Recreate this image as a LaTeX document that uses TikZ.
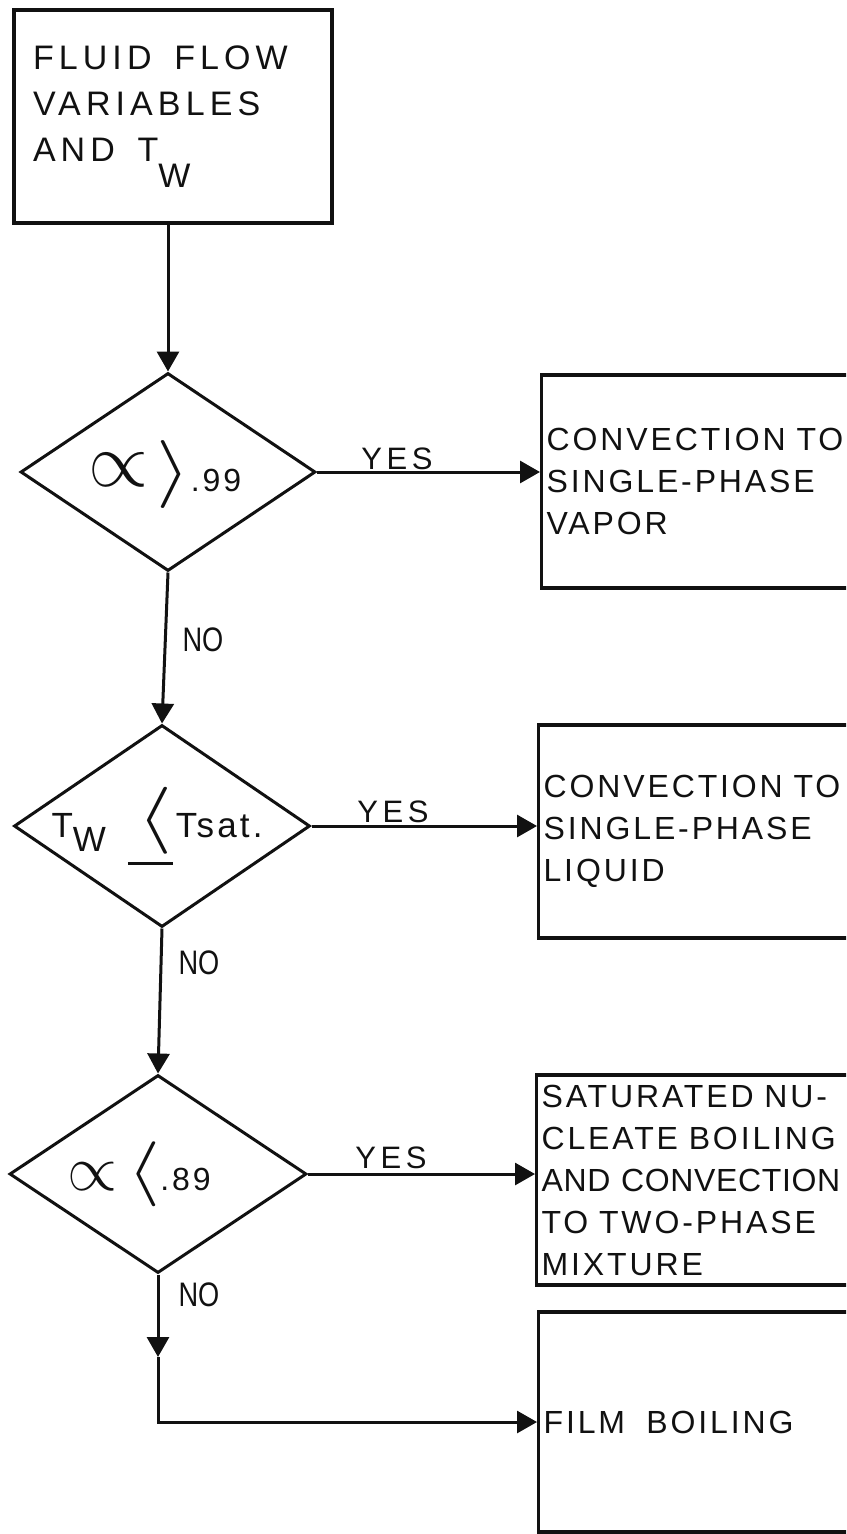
\documentclass[tikz,border=0pt]{standalone}
\usepackage{fontspec}
\setmainfont{Liberation Sans}
\usepackage{xcolor}
\usepackage{graphicx}
\usepackage{tikz}
\usetikzlibrary{positioning,arrows.meta,shapes.geometric}
\definecolor{FInk}{HTML}{111111}
\newfontfamily\letterface[LetterSpace=9]{Liberation Sans}
\newfontfamily\wideface[LetterSpace=15]{Liberation Sans}
\newfontfamily\narrowface[FakeStretch=0.8]{Liberation Sans}
% T with a lowered W
\newcommand{\Tw}[1][.4em]{T\raisebox{-#1}{W}}
% hand-drawn sized symbols
\newcommand{\sym}[3]{\resizebox*{#1}{#2}{\normalsize$#3$}}

\begin{document}
\begin{tikzpicture}[x=1pt, y=-1pt, every node/.style={align=left, text=FInk},
  decision/.style={diamond, draw=FInk, line width=3pt, inner sep=0pt},
  regime/.style={rectangle, draw=FInk, line width=3.2pt, anchor=west, inner xsep=5pt, inner ysep=0pt,
    text width=340pt, font=\letterface\fontsize{32}{42}\selectfont},
  cond/.style={font=\letterface\fontsize{32}{38}\selectfont},
  answer/.style={font=\wideface\fontsize{31}{31}\selectfont},
  noanswer/.style={font=\narrowface\fontsize{34}{34}\selectfont},
  flow/.style={draw=FInk, line width=3pt, -{Triangle[width=22pt,length=20pt]}}]
  \useasboundingbox (0,0) rectangle (846,1534);
  \clip (0,0) rectangle (846,1534);

  % Input: flow variables and wall temperature
  \node[rectangle, draw=FInk, line width=3.2pt, minimum width=318pt, minimum height=213pt,
    inner xsep=19pt, text width=280pt, font=\wideface\fontsize{34}{46}\selectfont]
    (vars) at (173,116.5) {FLUID\ \ FLOW\\VARIABLES\\AND\ \ \Tw[.75em]};

  % Test 1: alpha above .99
  \node[decision, minimum width=295pt, minimum height=198pt] (d1) at (168,472) {};
  \node[cond] (d1t) at (165,474)
    {\raisebox{5pt}{\resizebox{60pt}{!}{\normalsize$\propto$}}\hspace{8pt}\sym{34pt}{68pt}{\rangle}.99};
  \node[regime, minimum height=213pt] (vap) at (540,481.5) {CONVECTION TO\\SINGLE-PHASE\\VAPOR};

  % Test 2: wall below saturation
  \node[decision, minimum width=296pt, minimum height=202pt] (d2) at (162,826) {};
  \node[cond, font=\letterface\fontsize{35}{40}\selectfont] (d2t) at (157,826)
    {\Tw\hspace{32pt}\makebox[0pt][l]{\hspace{-10pt}\rule[-28pt]{45pt}{2.8pt}}\sym{35pt}{67pt}{\langle}\hspace{3pt}Tsat.};
  \node[regime, minimum height=213pt] (liq) at (537,831.5) {CONVECTION TO\\SINGLE-PHASE\\LIQUID};

  % Test 3: alpha below .89
  \node[decision, minimum width=297pt, minimum height=198pt] (d3) at (158,1174) {};
  \node[cond] (d3t) at (139,1174)
    {\resizebox{50pt}{!}{\normalsize$\propto$}\hspace{10pt}\sym{33pt}{65pt}{\langle}.89};
  \node[regime, minimum height=210pt] (nuc) at (535,1180)
    {SATURATED NU-\\CLEATE BOILING\\{\addfontfeature{LetterSpace=2}AND CONVECTION}\\TO TWO-PHASE\\MIXTURE};

  % Remaining case
  \node[regime, minimum height=220pt] (film) at (537,1422) {FILM\ \ BOILING};

  % YES / NO labels
  \node[answer] (yes1) at (397,459) {YES};
  \node[answer] (yes2) at (393,812) {YES};
  \node[answer] (yes3) at (391,1158) {YES};
  \node[noanswer] (no1) at (203,640) {NO};
  \node[noanswer] (no2) at (199,963) {NO};
  \node[noanswer] (no3) at (199,1295) {NO};

  \coordinate (nodown) at (158,1357);
  \draw[flow] (vars.south -| d1.north) -- (d1.north);
  \draw[flow] (d1.east) -- (d1.east -| vap.west);
  \draw[flow] (d1.south) -- (d2.north);
  \draw[flow] (d2.east) -- (d2.east -| liq.west);
  \draw[flow] (d2.south) -- (d3.north);
  \draw[flow] (d3.east) -- (d3.east -| nuc.west);
  \draw[flow] (d3.south) -- (nodown);
  \draw[flow] (nodown) |- (film.west);
\end{tikzpicture}
\end{document}
